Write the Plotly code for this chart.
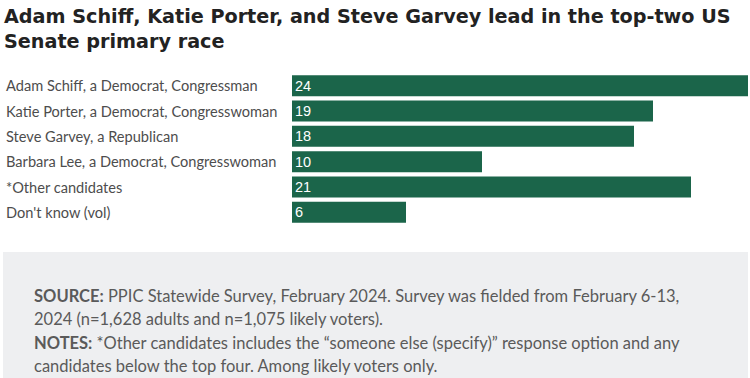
import plotly.graph_objects as go

categories = [
    "Adam Schiff, a Democrat, Congressman",
    "Katie Porter, a Democrat, Congresswoman",
    "Steve Garvey, a Republican",
    "Barbara Lee, a Democrat, Congresswoman",
    "*Other candidates",
    "Don't know (vol)",
]
values = [24, 19, 18, 10, 21, 6]

title_text = "<b>Adam Schiff, Katie Porter, and Steve Garvey lead in the top-two US<br>Senate primary race</b>"
source_lines = [
    "<b>SOURCE:</b> PPIC Statewide Survey, February 2024. Survey was fielded from February 6-13,",
    "2024 (n=1,628 adults and n=1,075 likely voters).",
    "<b>NOTES:</b> *Other candidates includes the \u201csomeone else (specify)\u201d response option and any",
    "candidates below the top four. Among likely voters only.",
]

W, H = 750, 378
L, R, T, B = 292, 2, 73, 153
pw = W - L - R
ph = H - T - B

def px_x(p):
    return (p - L) / pw

def px_y(p):
    return (H - B - p) / ph

bar_color = "#1b654a"

fig = go.Figure(go.Bar(
    x=values, y=categories, orientation="h",
    marker=dict(color=bar_color, line=dict(width=0)),
    text=[str(v) for v in values], textposition="inside",
    insidetextanchor="start", textangle=0,
    textfont=dict(color="white", size=14.5, family="Liberation Sans, Arial, sans-serif"),
    hoverinfo="skip", width=0.83,
))

annotations = []
for c in categories:
    annotations.append(dict(
        x=px_x(4), y=c, xref="paper", yref="y", text=c, showarrow=False,
        xanchor="left", yanchor="middle",
        font=dict(size=14.6, color="#4d4d4d", family="Lato, Roboto, sans-serif"),
    ))

annotations.append(dict(
    x=px_x(2), y=px_y(3), xref="paper", yref="paper", text=title_text,
    showarrow=False, xanchor="left", yanchor="top", align="left",
    font=dict(size=19.2, color="#222222", family="DejaVu Sans, sans-serif"),
))

line_ys = [296, 319, 343, 366]
for t, yy in zip(source_lines, line_ys):
    annotations.append(dict(
        x=px_x(32), y=px_y(yy), xref="paper", yref="paper", text=t,
        showarrow=False, xanchor="left", yanchor="middle", align="left",
        font=dict(size=16.5, color="#5a5a5a", family="Lato, sans-serif"),
    ))

fig.update_layout(
    width=W, height=H,
    margin=dict(l=L, r=R, t=T, b=B, pad=0),
    paper_bgcolor="white", plot_bgcolor="white",
    showlegend=False,
    xaxis=dict(range=[0, 24], visible=False, fixedrange=True),
    yaxis=dict(autorange="reversed", visible=False, fixedrange=True),
    annotations=annotations,
    shapes=[dict(
        type="rect", xref="paper", yref="paper",
        x0=px_x(3), x1=px_x(748), y0=px_y(252), y1=px_y(378),
        fillcolor="#eeeff1", line=dict(width=0), layer="below",
    )],
    uniformtext=dict(minsize=14, mode="show"),
)

fig.write_html("out.html", config={"displayModeBar": False},
               post_script="document.body.style.margin='0';document.body.style.overflow='hidden';")
